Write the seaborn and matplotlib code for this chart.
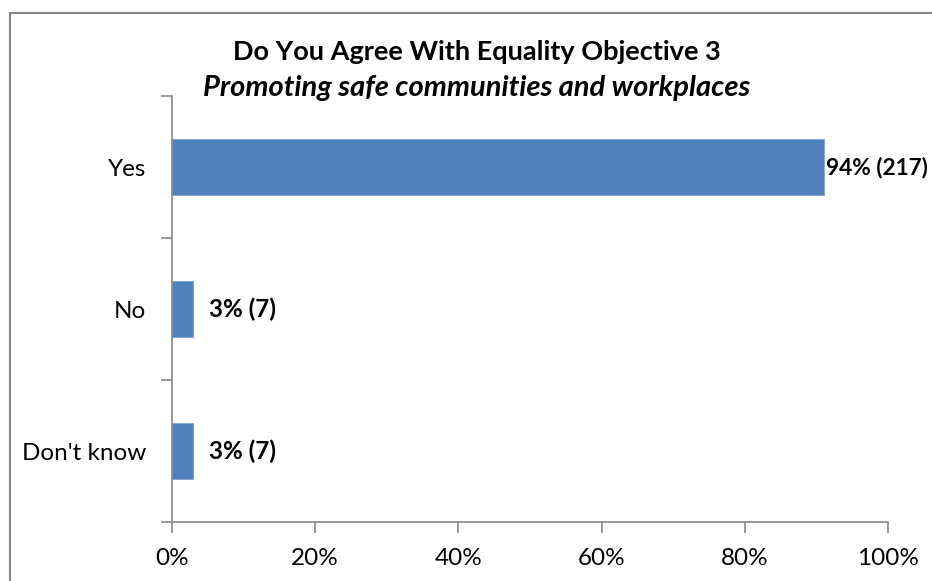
import matplotlib
matplotlib.use('Agg')
import matplotlib.pyplot as plt
from matplotlib.patches import Rectangle
from matplotlib.ticker import FixedLocator, PercentFormatter
import seaborn as sns
import pandas as pd

# Data
categories = ["Yes", "No", "Don't know"]
shares = [91, 3, 3]  # bar lengths in percent
bar_labels = ["94% (217)", "3% (7)", "3% (7)"]
x_ticks = [0, 20, 40, 60, 80, 100]

title_main = "Do You Agree With Equality Objective 3"
title_sub = "Promoting safe communities and workplaces"

BAR_COLOR = "#4F81BD"
AXIS_COLOR = "#868686"
FS = 17.5

sns.set_style("white")
plt.rcParams['font.family'] = ['Lato', 'DejaVu Sans']
plt.rcParams['text.color'] = 'black'

df = pd.DataFrame({"answer": categories, "share": shares})

fig = plt.figure(figsize=(9.32, 5.81), dpi=100)
ax = fig.add_axes([172 / 932, 1 - 522 / 581, 716 / 932, (522 - 96) / 581])

sns.barplot(data=df, x="share", y="answer", color=BAR_COLOR, width=0.4,
            saturation=1, edgecolor="#7FA3D0", linewidth=0.6, ax=ax)

# label offsets (points) as placed in the original; the long one is squeezed a bit
# so it still fits inside the picture
label_pad = [2, 11.5, 11.5]
label_size = [16.3, FS, FS]
for i, txt in enumerate(bar_labels):
    ax.annotate(txt, (shares[i], i), xytext=(label_pad[i], 0), textcoords="offset points",
                va="center", ha="left", fontsize=label_size[i], fontweight="bold",
                color="black", annotation_clip=False)

ax.set_xlim(0, 100)
ax.set_ylim(2.5, -0.5)
ax.xaxis.set_major_locator(FixedLocator(x_ticks))
ax.xaxis.set_major_formatter(PercentFormatter(decimals=0))
ax.set_xlabel("")
ax.set_ylabel("")

# category ticks sit between bars, like the spreadsheet style
ax.yaxis.set_minor_locator(FixedLocator([-0.5, 0.5, 1.5, 2.5]))
ax.tick_params(axis="y", which="major", length=0, pad=18.5, labelsize=FS, labelcolor="black")
ax.tick_params(axis="y", which="minor", length=8, width=1.2, color=AXIS_COLOR, left=True)
ax.tick_params(axis="x", length=8, width=1.2, color=AXIS_COLOR, bottom=True, pad=11,
               labelsize=FS, labelcolor="black")

for side in ["top", "right"]:
    ax.spines[side].set_visible(False)
for side in ["left", "bottom"]:
    ax.spines[side].set_color(AXIS_COLOR)
    ax.spines[side].set_linewidth(1.2)

fig.text(477 / 932, 1 - 52 / 581, title_main, ha="center", va="center",
         fontsize=19.5, fontweight="bold", color="black")
fig.text(477 / 932, 1 - 88 / 581, title_sub, ha="center", va="center",
         fontsize=21, fontweight="bold", style="italic", color="black")

# chart frame, cut by the image edge on the right and bottom
fig.patches.append(Rectangle((10 / 932, -0.05), 1.0, 1 - 13 / 581 + 0.05,
                             transform=fig.transFigure, fill=False,
                             edgecolor=AXIS_COLOR, linewidth=1.5))

fig.savefig("out.png", dpi=100)
